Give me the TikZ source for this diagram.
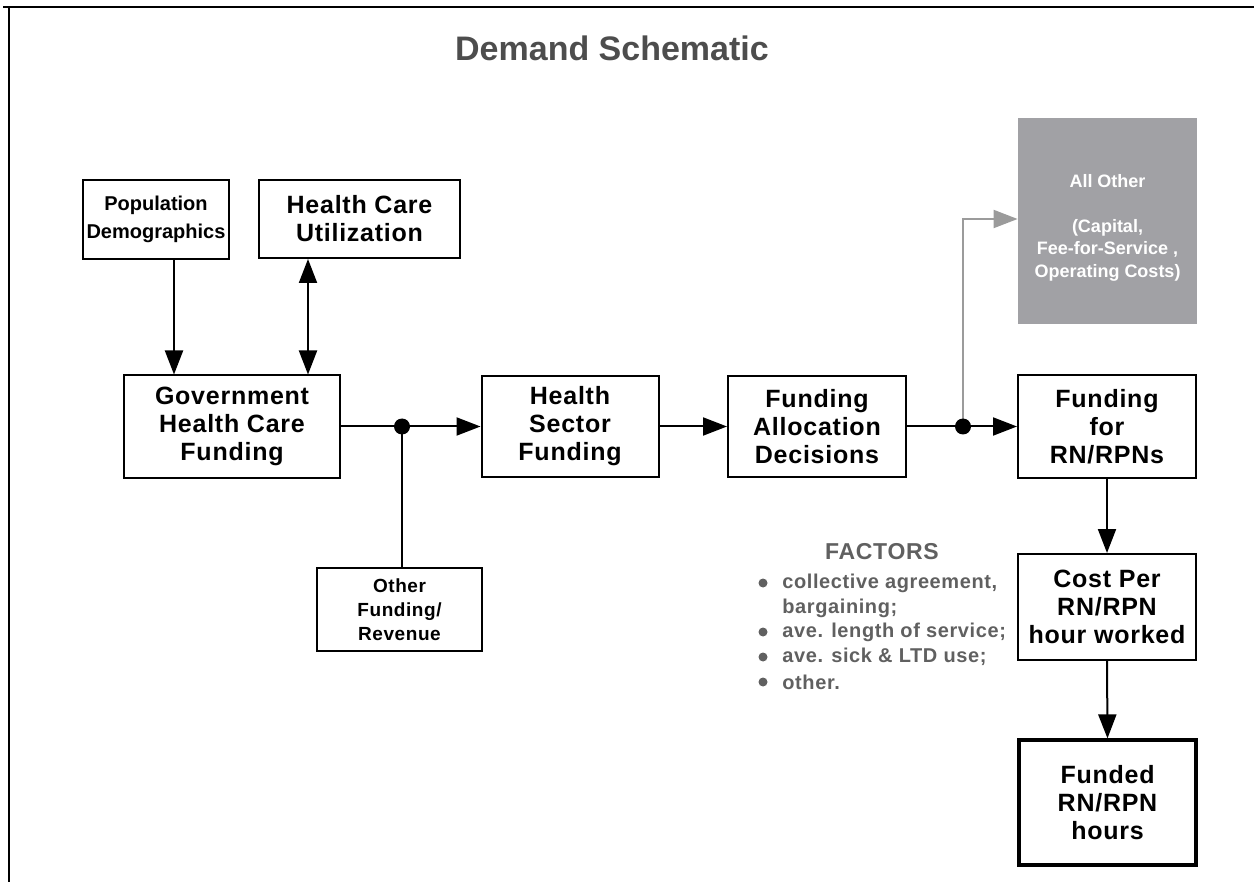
\documentclass[tikz,border=0pt]{standalone}
\usepackage{fontspec}
\setmainfont{Liberation Sans}
\newfontfamily\boxfont[LetterSpace=3]{Liberation Sans}
\usepackage{xcolor}
\definecolor{schemTitle}{HTML}{4D4D4D}
\definecolor{schemGray}{HTML}{A1A1A5}
\definecolor{schemLink}{HTML}{9B9B9B}
\definecolor{schemNote}{HTML}{606060}
\usetikzlibrary{arrows.meta}

\tikzset{
  blockbox/.style={draw, line width=1pt, align=center, inner sep=0pt, font=\boxfont\fontsize{12.5}{14}\selectfont\bfseries},
  link/.style={line width=1pt, -{Triangle[length=12pt,width=9pt]}},
  junction/.style={circle, fill, inner sep=0pt, minimum size=8pt},
  bulletdot/.style={circle, fill=schemNote, inner sep=0pt, minimum size=4.5pt},
  factortext/.style={anchor=west, text=schemNote, inner sep=0pt, font=\boxfont\fontsize{10}{12}\selectfont\bfseries},
}

\begin{document}
\begin{tikzpicture}[x=0.5pt, y=-0.5pt]
  \useasboundingbox (0,0) rectangle (1254,882);
  \draw[line width=1pt] (3,7) -- (1254,7);
  \draw[line width=1pt] (9,7) -- (9,882);
  \node[text=schemTitle, font=\fontsize{17}{20}\selectfont\bfseries] (title) at (612,48) {Demand Schematic};

  \node[blockbox, minimum width=73pt, minimum height=39.5pt, font=\fontsize{10}{14}\selectfont\bfseries] (pop) at (156,219.5) {Population\\Demographics};
  \node[blockbox, minimum width=100.5pt, minimum height=39pt] (hcu) at (359.5,219) {Health Care\\Utilization};
  \node[blockbox, minimum width=108pt, minimum height=51pt] (gov) at (232,426.5) {Government\\Health Care\\Funding};
  \node[blockbox, minimum width=88.5pt, minimum height=50.5pt] (hsf) at (570,426.5) {Health\\Sector\\Funding};
  \node[blockbox, minimum width=89pt, minimum height=50.5pt] (fad) at (817,426.5) {Funding\\Allocation\\Decisions};
  \node[blockbox, minimum width=89pt, minimum height=51pt] (frn) at (1107,426.5) {Funding\\for\\RN/RPNs};
  \node[blockbox, minimum width=82.5pt, minimum height=41.5pt, font=\boxfont\fontsize{9.5}{12}\selectfont\bfseries] (other) at (399.5,609.5) {Other\\Funding/\\Revenue};
  \node[blockbox, minimum width=89pt, minimum height=53pt] (cost) at (1107,607) {Cost Per\\RN/RPN\\hour worked};
  \node[blockbox, line width=1.6pt, minimum width=88.5pt, minimum height=62.5pt] (funded) at (1107.5,802.5) {Funded\\RN/RPN\\hours};
  \node[fill=schemGray, text=white, inner sep=0pt, minimum width=89.5pt, minimum height=103pt, font=\fontsize{9}{11.25}\selectfont\bfseries] (allother) at (1107.5,221)
    {\raisebox{-3.5pt}[\height][\depth]{\begin{tabular}{@{}c@{}}All Other\\[11.25pt](Capital,\\Fee-for-Service ,\\Operating Costs)\end{tabular}}};

  \coordinate (j1) at (402,426.5);
  \coordinate (j2) at (963,426.5);

  \draw[link] ([xshift=9pt]pop.south) -- ([xshift=-29pt]gov.north);
  \draw[link, {Triangle[length=12pt,width=9pt]}-{Triangle[length=12pt,width=9pt]}] ([xshift=-25.75pt]hcu.south) -- ([xshift=38pt]gov.north);
  \draw[line width=1pt] (gov.east) -- (j1);
  \draw[link] (j1) -- (hsf.west);
  \draw[line width=1pt] (j1) -- (j1 |- other.north);
  \draw[link] (hsf.east) -- (fad.west);
  \draw[line width=1pt] (fad.east) -- (j2);
  \draw[schemLink, line width=1pt, -{Triangle[length=12pt,width=9pt]}] (j2) |- ([yshift=1pt]allother.west);
  \draw[link] (j2) -- (frn.west);
  \draw[link] (frn.south) -- (cost.north);
  \draw[link] (cost.south) -- (funded.north);
  \node[junction] (dot1) at (j1) {};
  \node[junction] (dot2) at (j2) {};

  \node[text=schemNote, font=\boxfont\fontsize{11.5}{13}\selectfont\bfseries] (factors) at (882,552) {FACTORS};
  \node[bulletdot] (b1) at (763,583) {};
  \node[factortext] (f1) at (782,583) {collective agreement,};
  \node[factortext] (f1b) at (782,608) {bargaining;};
  \node[bulletdot] (b2) at (763,632) {};
  \node[factortext] (f2) at (782,632) {ave. length of service;};
  \node[bulletdot] (b3) at (763,657) {};
  \node[factortext] (f3) at (782,657) {ave. sick \& LTD use;};
  \node[bulletdot] (b4) at (763,682) {};
  \node[factortext] (f4) at (782,682) {other.};
\end{tikzpicture}
\end{document}
